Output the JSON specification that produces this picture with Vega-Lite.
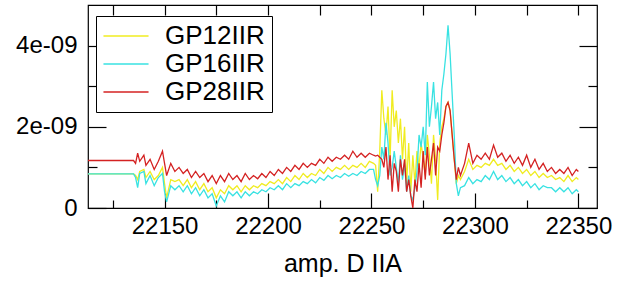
{
"$schema": "https://vega.github.io/schema/vega-lite/v6.json",
"width": 509, "height": 203,
"autosize": {"type": "none"},
"padding": {"left": 88, "top": 5, "right": 20, "bottom": 75},
"background": "white",
"config": {"view": {"stroke": "black", "strokeWidth": 1.2}, "font": "Liberation Sans"},
"data": {"values": [
{"x":22113,"GP12IIR":0.84e-9,"GP16IIR":0.84e-9,"GP28IIR":1.17e-9},
{"x":22135,"GP12IIR":0.84e-9,"GP16IIR":0.84e-9,"GP28IIR":1.17e-9},
{"x":22136,"GP12IIR":0.80e-9,"GP16IIR":0.75e-9,"GP28IIR":1.10e-9},
{"x":22137,"GP12IIR":0.70e-9,"GP16IIR":0.50e-9,"GP28IIR":1.35e-9},
{"x":22138,"GP12IIR":0.90e-9,"GP16IIR":0.85e-9,"GP28IIR":1.15e-9},
{"x":22140,"GP12IIR":0.95e-9,"GP16IIR":0.90e-9,"GP28IIR":1.30e-9},
{"x":22141,"GP12IIR":0.75e-9,"GP16IIR":0.60e-9,"GP28IIR":1.05e-9},
{"x":22143,"GP12IIR":0.90e-9,"GP16IIR":0.80e-9,"GP28IIR":1.20e-9},
{"x":22145,"GP12IIR":0.70e-9,"GP16IIR":0.55e-9,"GP28IIR":0.95e-9},
{"x":22147,"GP12IIR":0.80e-9,"GP16IIR":0.75e-9,"GP28IIR":1.15e-9},
{"x":22149,"GP12IIR":1.00e-9,"GP16IIR":0.85e-9,"GP28IIR":1.40e-9},
{"x":22150,"GP12IIR":0.60e-9,"GP16IIR":0.40e-9,"GP28IIR":1.10e-9},
{"x":22151,"GP12IIR":0.25e-9,"GP16IIR":0.15e-9,"GP28IIR":0.80e-9},
{"x":22153,"GP12IIR":0.70e-9,"GP16IIR":0.55e-9,"GP28IIR":1.10e-9},
{"x":22155,"GP12IIR":0.65e-9,"GP16IIR":0.45e-9,"GP28IIR":0.90e-9},
{"x":22157,"GP12IIR":0.70e-9,"GP16IIR":0.55e-9,"GP28IIR":1.00e-9},
{"x":22159,"GP12IIR":0.55e-9,"GP16IIR":0.40e-9,"GP28IIR":0.85e-9},
{"x":22161,"GP12IIR":0.70e-9,"GP16IIR":0.55e-9,"GP28IIR":0.95e-9},
{"x":22163,"GP12IIR":0.50e-9,"GP16IIR":0.35e-9,"GP28IIR":0.75e-9},
{"x":22165,"GP12IIR":0.65e-9,"GP16IIR":0.50e-9,"GP28IIR":0.90e-9},
{"x":22167,"GP12IIR":0.45e-9,"GP16IIR":0.30e-9,"GP28IIR":0.75e-9},
{"x":22169,"GP12IIR":0.60e-9,"GP16IIR":0.45e-9,"GP28IIR":0.85e-9},
{"x":22171,"GP12IIR":0.40e-9,"GP16IIR":0.25e-9,"GP28IIR":0.65e-9},
{"x":22173,"GP12IIR":0.50e-9,"GP16IIR":0.35e-9,"GP28IIR":0.80e-9},
{"x":22175,"GP12IIR":0.25e-9,"GP16IIR":0.05e-9,"GP28IIR":0.60e-9},
{"x":22177,"GP12IIR":0.45e-9,"GP16IIR":0.30e-9,"GP28IIR":0.80e-9},
{"x":22179,"GP12IIR":0.35e-9,"GP16IIR":0.15e-9,"GP28IIR":0.65e-9},
{"x":22181,"GP12IIR":0.55e-9,"GP16IIR":0.40e-9,"GP28IIR":0.85e-9},
{"x":22183,"GP12IIR":0.45e-9,"GP16IIR":0.30e-9,"GP28IIR":0.70e-9},
{"x":22185,"GP12IIR":0.55e-9,"GP16IIR":0.40e-9,"GP28IIR":0.80e-9},
{"x":22187,"GP12IIR":0.40e-9,"GP16IIR":0.25e-9,"GP28IIR":0.65e-9},
{"x":22189,"GP12IIR":0.55e-9,"GP16IIR":0.40e-9,"GP28IIR":0.85e-9},
{"x":22191,"GP12IIR":0.45e-9,"GP16IIR":0.30e-9,"GP28IIR":0.70e-9},
{"x":22193,"GP12IIR":0.55e-9,"GP16IIR":0.40e-9,"GP28IIR":0.80e-9},
{"x":22195,"GP12IIR":0.50e-9,"GP16IIR":0.35e-9,"GP28IIR":0.72e-9},
{"x":22197,"GP12IIR":0.60e-9,"GP16IIR":0.45e-9,"GP28IIR":0.85e-9},
{"x":22199,"GP12IIR":0.55e-9,"GP16IIR":0.40e-9,"GP28IIR":0.75e-9},
{"x":22201,"GP12IIR":0.65e-9,"GP16IIR":0.50e-9,"GP28IIR":0.90e-9},
{"x":22203,"GP12IIR":0.60e-9,"GP16IIR":0.45e-9,"GP28IIR":0.80e-9},
{"x":22205,"GP12IIR":0.70e-9,"GP16IIR":0.55e-9,"GP28IIR":0.95e-9},
{"x":22207,"GP12IIR":0.60e-9,"GP16IIR":0.45e-9,"GP28IIR":0.85e-9},
{"x":22209,"GP12IIR":0.75e-9,"GP16IIR":0.60e-9,"GP28IIR":1.00e-9},
{"x":22211,"GP12IIR":0.65e-9,"GP16IIR":0.50e-9,"GP28IIR":0.90e-9},
{"x":22213,"GP12IIR":0.80e-9,"GP16IIR":0.60e-9,"GP28IIR":1.05e-9},
{"x":22215,"GP12IIR":0.70e-9,"GP16IIR":0.55e-9,"GP28IIR":0.95e-9},
{"x":22217,"GP12IIR":0.85e-9,"GP16IIR":0.65e-9,"GP28IIR":1.10e-9},
{"x":22219,"GP12IIR":0.75e-9,"GP16IIR":0.60e-9,"GP28IIR":1.00e-9},
{"x":22221,"GP12IIR":0.85e-9,"GP16IIR":0.70e-9,"GP28IIR":1.10e-9},
{"x":22223,"GP12IIR":0.80e-9,"GP16IIR":0.62e-9,"GP28IIR":1.05e-9},
{"x":22225,"GP12IIR":0.95e-9,"GP16IIR":0.75e-9,"GP28IIR":1.20e-9},
{"x":22227,"GP12IIR":0.85e-9,"GP16IIR":0.68e-9,"GP28IIR":1.10e-9},
{"x":22229,"GP12IIR":1.00e-9,"GP16IIR":0.80e-9,"GP28IIR":1.25e-9},
{"x":22231,"GP12IIR":0.90e-9,"GP16IIR":0.72e-9,"GP28IIR":1.15e-9},
{"x":22233,"GP12IIR":1.00e-9,"GP16IIR":0.80e-9,"GP28IIR":1.25e-9},
{"x":22235,"GP12IIR":0.95e-9,"GP16IIR":0.75e-9,"GP28IIR":1.20e-9},
{"x":22237,"GP12IIR":1.05e-9,"GP16IIR":0.85e-9,"GP28IIR":1.30e-9},
{"x":22239,"GP12IIR":0.95e-9,"GP16IIR":0.78e-9,"GP28IIR":1.20e-9},
{"x":22241,"GP12IIR":1.05e-9,"GP16IIR":0.85e-9,"GP28IIR":1.40e-9},
{"x":22243,"GP12IIR":1.00e-9,"GP16IIR":0.80e-9,"GP28IIR":1.25e-9},
{"x":22245,"GP12IIR":1.10e-9,"GP16IIR":0.90e-9,"GP28IIR":1.35e-9},
{"x":22247,"GP12IIR":1.00e-9,"GP16IIR":0.85e-9,"GP28IIR":1.25e-9},
{"x":22249,"GP12IIR":1.15e-9,"GP16IIR":0.95e-9,"GP28IIR":1.35e-9},
{"x":22251,"GP12IIR":1.10e-9,"GP16IIR":0.95e-9,"GP28IIR":1.30e-9},
{"x":22252,"GP12IIR":1.05e-9,"GP16IIR":0.70e-9,"GP28IIR":1.28e-9},
{"x":22253,"GP12IIR":0.40e-9,"GP16IIR":0.55e-9,"GP28IIR":1.30e-9},
{"x":22254,"GP12IIR":1.40e-9,"GP16IIR":0.80e-9,"GP28IIR":1.25e-9},
{"x":22255,"GP12IIR":2.90e-9,"GP16IIR":1.50e-9,"GP28IIR":1.20e-9},
{"x":22256,"GP12IIR":2.20e-9,"GP16IIR":1.20e-9,"GP28IIR":1.00e-9},
{"x":22257,"GP12IIR":1.80e-9,"GP16IIR":2.10e-9,"GP28IIR":1.50e-9},
{"x":22258,"GP12IIR":2.50e-9,"GP16IIR":1.60e-9,"GP28IIR":0.70e-9},
{"x":22259,"GP12IIR":1.20e-9,"GP16IIR":0.80e-9,"GP28IIR":1.30e-9},
{"x":22260,"GP12IIR":2.90e-9,"GP16IIR":1.00e-9,"GP28IIR":0.40e-9},
{"x":22261,"GP12IIR":2.00e-9,"GP16IIR":1.40e-9,"GP28IIR":1.10e-9},
{"x":22262,"GP12IIR":2.40e-9,"GP16IIR":1.00e-9,"GP28IIR":0.90e-9},
{"x":22263,"GP12IIR":1.60e-9,"GP16IIR":0.60e-9,"GP28IIR":0.40e-9},
{"x":22264,"GP12IIR":2.20e-9,"GP16IIR":1.30e-9,"GP28IIR":1.20e-9},
{"x":22265,"GP12IIR":1.20e-9,"GP16IIR":0.70e-9,"GP28IIR":0.80e-9},
{"x":22266,"GP12IIR":2.00e-9,"GP16IIR":1.10e-9,"GP28IIR":1.20e-9},
{"x":22267,"GP12IIR":0.60e-9,"GP16IIR":0.40e-9,"GP28IIR":0.40e-9},
{"x":22268,"GP12IIR":1.60e-9,"GP16IIR":0.80e-9,"GP28IIR":0.70e-9},
{"x":22269,"GP12IIR":0.40e-9,"GP16IIR":0.30e-9,"GP28IIR":0.30e-9},
{"x":22270,"GP12IIR":1.30e-9,"GP16IIR":0.20e-9,"GP28IIR":0.00e-9},
{"x":22271,"GP12IIR":0.60e-9,"GP16IIR":0.50e-9,"GP28IIR":0.70e-9},
{"x":22272,"GP12IIR":1.40e-9,"GP16IIR":0.90e-9,"GP28IIR":0.40e-9},
{"x":22273,"GP12IIR":1.00e-9,"GP16IIR":1.80e-9,"GP28IIR":1.10e-9},
{"x":22274,"GP12IIR":1.60e-9,"GP16IIR":1.50e-9,"GP28IIR":0.50e-9},
{"x":22275,"GP12IIR":1.20e-9,"GP16IIR":2.00e-9,"GP28IIR":1.40e-9},
{"x":22276,"GP12IIR":0.80e-9,"GP16IIR":1.30e-9,"GP28IIR":0.70e-9},
{"x":22277,"GP12IIR":1.80e-9,"GP16IIR":3.10e-9,"GP28IIR":1.50e-9},
{"x":22278,"GP12IIR":1.30e-9,"GP16IIR":2.00e-9,"GP28IIR":0.80e-9},
{"x":22279,"GP12IIR":0.60e-9,"GP16IIR":2.50e-9,"GP28IIR":1.20e-9},
{"x":22280,"GP12IIR":1.80e-9,"GP16IIR":3.10e-9,"GP28IIR":1.60e-9},
{"x":22281,"GP12IIR":1.20e-9,"GP16IIR":2.20e-9,"GP28IIR":0.80e-9},
{"x":22282,"GP12IIR":0.20e-9,"GP16IIR":2.60e-9,"GP28IIR":1.50e-9},
{"x":22283,"GP12IIR":1.60e-9,"GP16IIR":1.80e-9,"GP28IIR":1.40e-9},
{"x":22284,"GP12IIR":2.00e-9,"GP16IIR":2.90e-9,"GP28IIR":1.80e-9},
{"x":22285,"GP12IIR":2.20e-9,"GP16IIR":3.30e-9,"GP28IIR":2.10e-9},
{"x":22286,"GP12IIR":2.50e-9,"GP16IIR":3.80e-9,"GP28IIR":2.50e-9},
{"x":22287,"GP12IIR":2.60e-9,"GP16IIR":4.50e-9,"GP28IIR":2.60e-9},
{"x":22288,"GP12IIR":2.40e-9,"GP16IIR":3.80e-9,"GP28IIR":2.40e-9},
{"x":22289,"GP12IIR":1.80e-9,"GP16IIR":2.80e-9,"GP28IIR":1.80e-9},
{"x":22290,"GP12IIR":1.20e-9,"GP16IIR":1.80e-9,"GP28IIR":1.20e-9},
{"x":22291,"GP12IIR":0.60e-9,"GP16IIR":0.60e-9,"GP28IIR":0.70e-9},
{"x":22292,"GP12IIR":0.80e-9,"GP16IIR":0.30e-9,"GP28IIR":1.00e-9},
{"x":22293,"GP12IIR":0.70e-9,"GP16IIR":0.50e-9,"GP28IIR":0.80e-9},
{"x":22295,"GP12IIR":0.90e-9,"GP16IIR":0.55e-9,"GP28IIR":1.10e-9},
{"x":22297,"GP12IIR":1.20e-9,"GP16IIR":0.75e-9,"GP28IIR":1.60e-9},
{"x":22299,"GP12IIR":0.95e-9,"GP16IIR":0.60e-9,"GP28IIR":1.10e-9},
{"x":22301,"GP12IIR":1.05e-9,"GP16IIR":0.70e-9,"GP28IIR":1.30e-9},
{"x":22303,"GP12IIR":1.00e-9,"GP16IIR":0.65e-9,"GP28IIR":1.20e-9},
{"x":22305,"GP12IIR":1.10e-9,"GP16IIR":0.80e-9,"GP28IIR":1.35e-9},
{"x":22307,"GP12IIR":1.05e-9,"GP16IIR":0.70e-9,"GP28IIR":1.20e-9},
{"x":22309,"GP12IIR":1.20e-9,"GP16IIR":0.90e-9,"GP28IIR":1.55e-9},
{"x":22311,"GP12IIR":1.05e-9,"GP16IIR":0.70e-9,"GP28IIR":1.25e-9},
{"x":22313,"GP12IIR":1.10e-9,"GP16IIR":0.80e-9,"GP28IIR":1.35e-9},
{"x":22315,"GP12IIR":0.95e-9,"GP16IIR":0.65e-9,"GP28IIR":1.15e-9},
{"x":22317,"GP12IIR":1.05e-9,"GP16IIR":0.75e-9,"GP28IIR":1.30e-9},
{"x":22319,"GP12IIR":0.90e-9,"GP16IIR":0.60e-9,"GP28IIR":1.10e-9},
{"x":22321,"GP12IIR":1.00e-9,"GP16IIR":0.70e-9,"GP28IIR":1.25e-9},
{"x":22323,"GP12IIR":0.85e-9,"GP16IIR":0.55e-9,"GP28IIR":1.05e-9},
{"x":22325,"GP12IIR":0.95e-9,"GP16IIR":0.65e-9,"GP28IIR":1.30e-9},
{"x":22327,"GP12IIR":0.80e-9,"GP16IIR":0.50e-9,"GP28IIR":1.00e-9},
{"x":22329,"GP12IIR":0.90e-9,"GP16IIR":0.60e-9,"GP28IIR":1.20e-9},
{"x":22331,"GP12IIR":0.75e-9,"GP16IIR":0.45e-9,"GP28IIR":0.95e-9},
{"x":22333,"GP12IIR":0.85e-9,"GP16IIR":0.55e-9,"GP28IIR":1.10e-9},
{"x":22335,"GP12IIR":0.75e-9,"GP16IIR":0.50e-9,"GP28IIR":0.90e-9},
{"x":22337,"GP12IIR":0.80e-9,"GP16IIR":0.50e-9,"GP28IIR":1.00e-9},
{"x":22339,"GP12IIR":0.70e-9,"GP16IIR":0.40e-9,"GP28IIR":0.85e-9},
{"x":22341,"GP12IIR":0.75e-9,"GP16IIR":0.50e-9,"GP28IIR":0.95e-9},
{"x":22343,"GP12IIR":0.65e-9,"GP16IIR":0.40e-9,"GP28IIR":0.85e-9},
{"x":22345,"GP12IIR":0.80e-9,"GP16IIR":0.50e-9,"GP28IIR":1.00e-9},
{"x":22347,"GP12IIR":0.65e-9,"GP16IIR":0.35e-9,"GP28IIR":0.80e-9},
{"x":22349,"GP12IIR":0.75e-9,"GP16IIR":0.45e-9,"GP28IIR":0.95e-9},
{"x":22350,"GP12IIR":0.70e-9,"GP16IIR":0.40e-9,"GP28IIR":0.90e-9}
]},
"transform": [{"fold": ["GP12IIR", "GP16IIR", "GP28IIR"], "as": ["series", "value"]}],
"layer": [
{
"mark": {"type": "line", "strokeWidth": 1.3, "clip": true},
"encoding": {
"x": {"field": "x", "type": "quantitative",
"scale": {"domain": [22113, 22359], "nice": false, "zero": false},
"axis": {"values": [22125, 22150, 22175, 22200, 22225, 22250, 22275, 22300, 22325, 22350],
"format": "d", "labelExpr": "datum.value % 50 == 0 ? datum.label : ''",
"domain": false, "grid": false,
"tickColor": "black", "tickWidth": 1.2,
"tickSize": {"condition": {"test": "datum.value % 50 == 0", "value": -15}, "value": -8},
"labelFont": "Liberation Sans", "labelFontSize": 24, "labelColor": "black", "labelPadding": 21,
"title": "amp. D IIA", "titleFont": "Liberation Sans", "titleFontSize": 25, "titleFontWeight": "normal", "titleColor": "black", "titlePadding": 13}},
"y": {"field": "value", "type": "quantitative",
"scale": {"domain": [0, 5e-9], "nice": false},
"axis": {"values": [0, 1e-9, 2e-9, 3e-9, 4e-9],
"labelExpr": "round(datum.value*1e9) % 2 == 0 ? (round(datum.value*1e9) == 0 ? '0' : round(datum.value*1e9) + 'e-09') : ''",
"domain": false, "grid": false,
"tickColor": "black", "tickWidth": 1.2,
"tickSize": {"condition": {"test": "round(datum.value*1e9) % 2 == 0", "value": -18}, "value": -9},
"labelFont": "Liberation Sans", "labelFontSize": 24, "labelColor": "black", "labelPadding": 29,
"title": null}},
"color": {"field": "series", "type": "nominal",
"scale": {"domain": ["GP12IIR", "GP16IIR", "GP28IIR"], "range": ["#f0ec20", "#38e2e2", "#d42222"]},
"legend": {"orient": "none", "legendX": 8, "legendY": 11, "title": null,
"strokeColor": "black", "fillColor": "white", "padding": 7,
"symbolType": "M-4,0H4", "symbolSize": 127, "symbolStrokeWidth": 1.6, "symbolOffset": 10,
"labelFont": "Liberation Sans", "labelFontSize": 26, "labelColor": "black", "labelOffset": 26, "labelLimit": 300, "rowPadding": 2}}
}
},
{
"mark": {"type": "line", "opacity": 0},
"encoding": {
"x": {"field": "x", "type": "quantitative",
"scale": {"domain": [22113, 22359], "nice": false, "zero": false},
"axis": {"orient": "top", "values": [22125, 22150, 22175, 22200, 22225, 22250, 22275, 22300, 22325, 22350],
"labels": false, "domain": false, "grid": false, "tickColor": "black", "tickWidth": 1.2,
"tickSize": -10, "title": null}},
"y": {"field": "value", "type": "quantitative",
"scale": {"domain": [0, 5e-9], "nice": false},
"axis": {"orient": "right", "values": [0, 1e-9, 2e-9, 3e-9, 4e-9],
"labels": false, "domain": false, "grid": false, "tickColor": "black", "tickWidth": 1.2,
"tickSize": {"condition": {"test": "round(datum.value*1e9) % 2 == 0", "value": -18}, "value": -9}, "title": null}},
"detail": {"field": "series", "type": "nominal"}
}
}
],
"resolve": {"axis": {"x": "independent", "y": "independent"}}
}
